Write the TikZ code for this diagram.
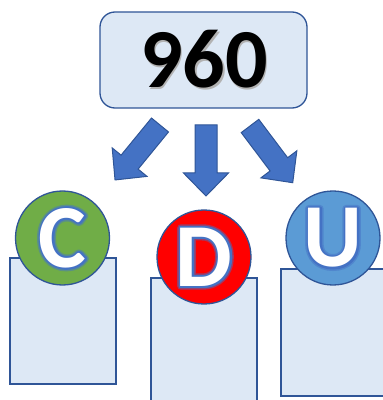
\documentclass[tikz,border=0pt]{standalone}
\usepackage{fontspec}
\newfontfamily\calfont{Carlito}
\definecolor{boxfill}{HTML}{DDE8F5}
\definecolor{edge}{HTML}{2F5597}
\definecolor{arrowfill}{HTML}{4472C4}
\definecolor{cgreen}{HTML}{70AD47}
\definecolor{cred}{HTML}{FF0000}
\definecolor{cblue}{HTML}{5B9BD5}
\definecolor{glowc}{HTML}{4472C4}
\newcommand\glowtext[2]{%
  \rlap{\textcolor{glowc!50!#1}{\special{pdf:literal direct 2 Tr 7 w 1 j}#2\special{pdf:literal direct 0 Tr 1 w}}}%
  \rlap{\textcolor{glowc}{\special{pdf:literal direct 2 Tr 4 w 1 j}#2\special{pdf:literal direct 0 Tr 1 w}}}%
  \textcolor{white}{#2}}
\tikzset{
  panel/.style={draw=edge, line width=1.3pt, fill=boxfill, rectangle, inner sep=0pt},
  badge/.style={draw=edge, line width=1.3pt, circle, minimum size=94pt, inner sep=0pt,
    font=\calfont\bfseries\fontsize{90}{90}\selectfont},
  blockarrow/.style={draw=edge, line width=1pt, fill=arrowfill, line join=miter},
}
\newcommand\bigarrow[2]{% position, angle
  \begin{scope}[shift={#1}, rotate=#2]
    \draw[blockarrow] (0,11) -- (48,11) -- (48,22.5) -- (71,0) -- (48,-22.5) -- (48,-11) -- (0,-11) -- cycle;
  \end{scope}}
\begin{document}
\begin{tikzpicture}[x=1pt,y=1pt]
\useasboundingbox (0,0) rectangle (383,400);
% panels
\node[panel, minimum width=106pt, minimum height=126pt] (pc) at (63,79) {};
\node[panel, minimum width=106pt, minimum height=127pt] (pd) at (204,58.5) {};
\node[panel, minimum width=110pt, minimum height=127pt] (pu) at (336,67.5) {};
% badges
\node[badge, fill=cgreen] (c) at (62.5,162) {\glowtext{cgreen}{C}};
\node[badge, fill=cred] (d) at (204,143) {\glowtext{cred}{D}};
\node[badge, fill=cblue] (u) at (333,162) {\glowtext{cblue}{U}};
% top box
\node[panel, rounded corners=15pt, minimum width=207pt, minimum height=96pt] (top) at (203.5,340) {};
\node[anchor=base, font=\calfont\bfseries\fontsize{84}{84}\selectfont, inner sep=0pt] (num) at (204,312)
  {\rlap{\kern1.5pt\raisebox{-1.5pt}{\textcolor{black!30}{960}}}960};
% arrows
\bigarrow{(160,275)}{-129.3}
\bigarrow{(206,275)}{-90}
\bigarrow{(250,274)}{-53}
\end{tikzpicture}
\end{document}
